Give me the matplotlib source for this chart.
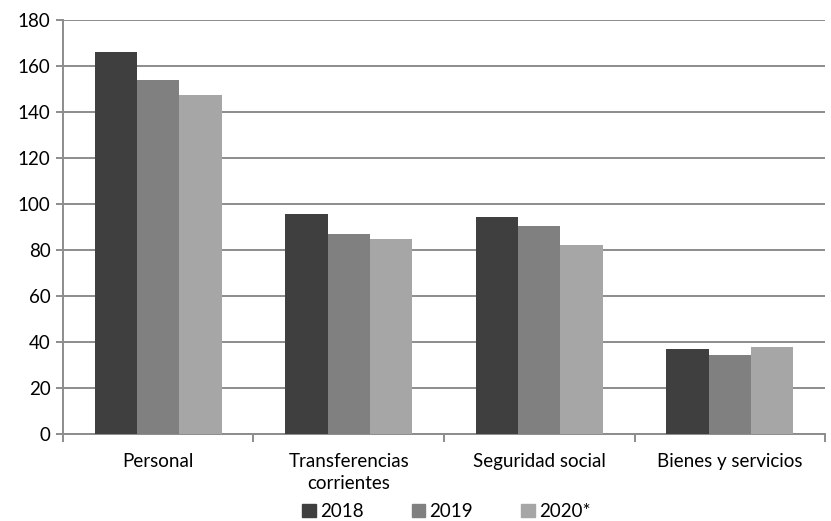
import numpy as np
import matplotlib
matplotlib.use('Agg')
from matplotlib import pyplot as plt
from matplotlib.patches import Patch

categories = ['Personal', 'Transferencias\ncorrientes', 'Seguridad social', 'Bienes y servicios']
series_names = ['2018', '2019', '2020*']
v2018 = [166.0, 95.7, 94.3, 36.8]
v2019 = [154.0, 87.0, 90.4, 34.3]
v2020 = [147.4, 84.9, 82.2, 38.0]
colors = ['#3f3f3f', '#808080', '#a6a6a6']

plt.rcParams['font.family'] = ['Lato', 'DejaVu Sans']

fig = plt.figure(figsize=(8.31, 5.21), dpi=100)
ax = fig.add_axes([0.0758, 0.167, 0.917, 0.7946])

x = np.arange(len(categories))
w = 1 / 4.5
for i, (vals, c) in enumerate(zip([v2018, v2019, v2020], colors)):
    ax.bar(x + (i - 1) * w, vals, width=w, color=c, zorder=3, label=series_names[i])

ax.set_xlim(-0.5, len(categories) - 0.5)
ax.set_ylim(0, 180)
ax.set_yticks(range(0, 181, 20))
ax.yaxis.grid(True, color='#8c8c8c', linewidth=1.4, zorder=0)

for s in ['top', 'right']:
    ax.spines[s].set_visible(False)
for s in ['left', 'bottom']:
    ax.spines[s].set_color('#8c8c8c')
    ax.spines[s].set_linewidth(1.4)

ax.set_xticks(np.arange(-0.5, len(categories), 1.0))
ax.set_xticklabels([])
ax.set_xticks(x, minor=True)
ax.set_xticklabels(categories, minor=True, fontsize=13.5, linespacing=1.35)
ax.tick_params(axis='x', which='minor', length=0, pad=14)
ax.tick_params(axis='x', which='major', length=6, color='#8c8c8c', width=1.4)
ax.tick_params(axis='y', length=5, color='#8c8c8c', width=1.4, labelsize=13.5, pad=4)

handles = [Patch(color=c, label=n) for c, n in zip(colors, series_names)]
fig.legend(handles=handles, loc='lower center', bbox_to_anchor=(0.537, -0.03), ncol=3,
           frameon=False, fontsize=13.5, handlelength=0.72, handleheight=0.72,
           handletextpad=0.22, columnspacing=2.57)

plt.savefig('out.png', dpi=100)
